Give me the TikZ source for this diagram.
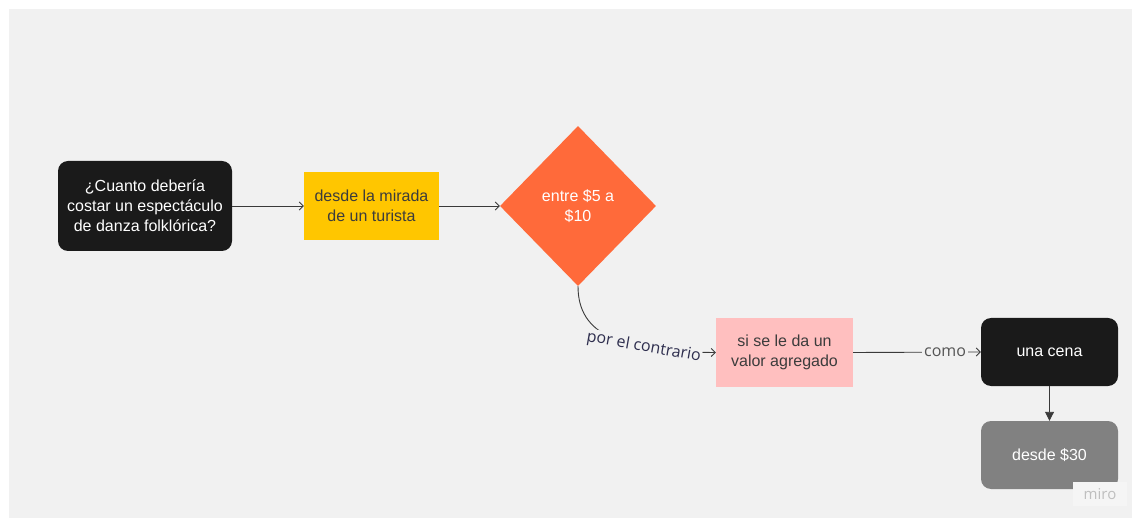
\documentclass[tikz,border=0pt]{standalone}
\usepackage{fontspec}
\setmainfont{Liberation Sans}
\newfontfamily\labelfont{Open Sans}
\usetikzlibrary{shapes.geometric,arrows.meta}
\definecolor{panel}{HTML}{F1F1F1}
\definecolor{boxblack}{HTML}{1A1A1A}
\definecolor{boxyellow}{HTML}{FFC600}
\definecolor{boxorange}{HTML}{FF6A3A}
\definecolor{boxpink}{HTML}{FFBFBF}
\definecolor{boxgray}{HTML}{818181}
\definecolor{linecol}{HTML}{3A3A3A}
\definecolor{navy}{HTML}{2E2E4E}
\definecolor{comogray}{HTML}{555555}
\tikzset{
  darkbox/.style={draw=none, fill=boxblack, rounded corners=10pt, text=white, align=center, font=\fontsize{16}{20}\selectfont, inner sep=0pt},
  flatbox/.style={draw=none, align=center, font=\fontsize{16}{20}\selectfont, inner sep=0pt},
  conn/.style={draw=linecol, line width=0.9pt, -{Straight Barb[length=4pt,width=8pt]}},
  connfill/.style={draw=linecol, line width=0.9pt, -{Triangle[length=9pt,width=9pt]}},
}
\begin{document}
\begin{tikzpicture}[x=1pt,y=-1pt]
\useasboundingbox (0,0) rectangle (1132,518);
\fill[white] (0,0) rectangle (1132,518);
\fill[panel] (9,9) rectangle (1132,518);

\node[darkbox, minimum width=174pt, minimum height=90pt] (q) at (145,206) {¿Cuanto debería\\costar un espectáculo\\de danza folklórica?};
\node[flatbox, fill=boxyellow, text=boxblack!85, minimum width=135pt, minimum height=68pt] (y) at (371.5,206) {desde la mirada\\de un turista};
\node[diamond, aspect=0.975, fill=boxorange, draw=none, minimum width=156pt, minimum height=160pt, inner sep=0pt, text=white, align=center, font=\fontsize{16}{20}\selectfont] (d) at (578,206) {entre \$5 a\\\$10};
\node[flatbox, fill=boxpink, text=boxblack!85, minimum width=137pt, minimum height=69pt] (p) at (784.5,352.5) {si se le da un\\valor agregado};
\node[darkbox, minimum width=137pt, minimum height=68pt] (c) at (1049.5,352) {una cena};
\node[darkbox, fill=boxgray, minimum width=137pt, minimum height=68pt] (g) at (1049.5,455) {desde \$30};

\draw[conn] (q.east) -- (y.west);
\draw[conn] (y.east) -- (d.west);
\draw[conn] (d.south) .. controls (578,335) and (620,352) .. (p.west)
  node[pos=0.7, fill=panel, inner sep=1pt, rotate=-10, text=navy, font=\labelfont\fontsize{16}{18}\selectfont] (lbl) {por el contrario};
\draw[conn] (p.east) -- (c.west)
  node[pos=0.72, fill=panel, inner sep=2pt, text=comogray, font=\labelfont\fontsize{16}{18}\selectfont] (como) {como};
\draw[connfill] (c.south) -- (g.north);

\node[fill=panel!70!white, text=gray!50, font=\labelfont\fontsize{15}{16}\selectfont, minimum width=54pt, minimum height=24pt, inner sep=0pt] (miro) at (1100,494) {miro};
\end{tikzpicture}
\end{document}
